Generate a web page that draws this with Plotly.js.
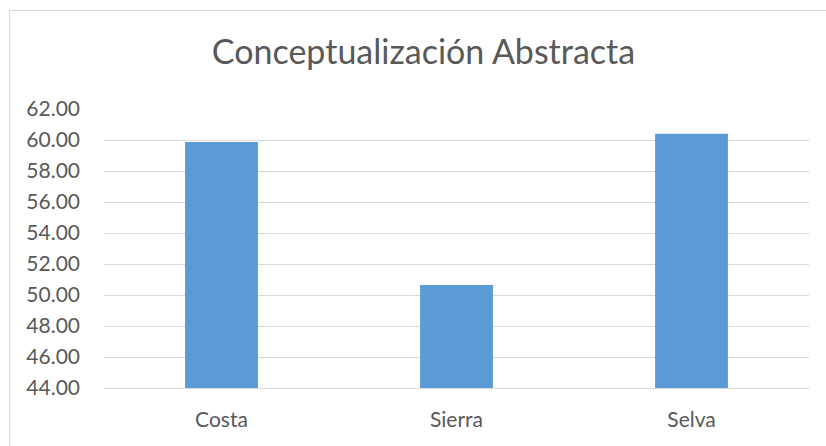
<!DOCTYPE html>
<html>
<head>
<meta charset="utf-8">
<script src="https://cdn.plot.ly/plotly-3.0.1.min.js"></script>
<style>
html,body{margin:0;padding:0;background:#fff;overflow:hidden;}
#chart{width:826px;height:446px;}
</style>
</head>
<body>
<div id="chart"></div>
<script>
const categories = ["Costa", "Sierra", "Selva"];
const values = [59.87, 50.65, 60.41];
const tickValues = [44, 46, 48, 50, 52, 54, 56, 58, 60, 62];
const tickLabels = ["44.00", "46.00", "48.00", "50.00", "52.00", "54.00", "56.00", "58.00", "60.00", "62.00"];

const W = 826, H = 446;
const M = {l: 104, r: 17, t: 109, b: 58};
const pw = W - M.l - M.r, ph = H - M.t - M.b;
const px = x => (x - M.l) / pw;
const py = y => (H - M.b - y) / ph;

const trace = {
  type: "bar",
  x: categories,
  y: values,
  marker: {color: "#5B9BD5"},
  width: 0.31,
  hoverinfo: "x+y"
};

const layout = {
  width: W, height: H,
  margin: M,
  paper_bgcolor: "#ffffff",
  plot_bgcolor: "#ffffff",
  showlegend: false,
  font: {family: "Lato, 'Open Sans', sans-serif", color: "#595959"},
  title: {
    text: "Conceptualización Abstracta",
    font: {size: 34, color: "#595959", family: "Lato, 'Open Sans', sans-serif"},
    x: 423.5 / W, xref: "container", xanchor: "center",
    y: 1 - 52 / H, yref: "container", yanchor: "middle"
  },
  xaxis: {
    type: "category",
    showgrid: false,
    zeroline: false,
    showline: true,
    linecolor: "#D9D9D9",
    linewidth: 1,
    ticks: "",
    ticklabelstandoff: 13,
    tickfont: {size: 21, color: "#595959"}
  },
  yaxis: {
    range: [44, 62.001],
    tickvals: tickValues,
    ticktext: tickLabels,
    showgrid: true,
    gridcolor: "#D9D9D9",
    gridwidth: 1,
    zeroline: false,
    showline: false,
    ticks: "",
    ticklabelstandoff: 23,
    tickfont: {size: 21, color: "#595959"}
  },
  shapes: [
    {type: "line", xref: "paper", yref: "paper", x0: px(9.5), x1: px(9.5), y0: py(10), y1: py(H + 5), line: {color: "#D9D9D9", width: 1}},
    {type: "line", xref: "paper", yref: "paper", x0: px(9), x1: px(W + 5), y0: py(10.5), y1: py(10.5), line: {color: "#D9D9D9", width: 1}}
  ],
  bargap: 0.69
};

Plotly.newPlot("chart", [trace], layout, {displayModeBar: false, staticPlot: true});
</script>
</body>
</html>
